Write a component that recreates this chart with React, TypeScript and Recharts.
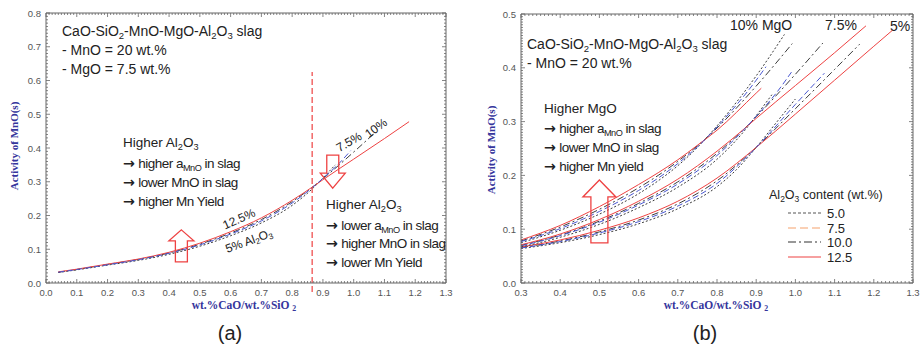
import React from 'react';
import { ComposedChart, Line, XAxis, YAxis, ReferenceLine, ReferenceDot } from 'recharts';

type Pt = [number, number];

// --- panel (a): MgO = 7.5 wt.%, one curve per Al2O3 content ---
const midAl5: Pt[] = [[0.04, 0.031], [0.1, 0.039], [0.2, 0.053], [0.3, 0.067], [0.4, 0.085], [0.5, 0.109], [0.6, 0.14], [0.7, 0.178], [0.8, 0.23], [0.87, 0.283], [0.9, 0.311], [0.94, 0.35]];
const midAl75: Pt[] = [[0.04, 0.032], [0.1, 0.04], [0.2, 0.054], [0.3, 0.069], [0.4, 0.088], [0.5, 0.113], [0.6, 0.145], [0.7, 0.184], [0.8, 0.237], [0.87, 0.286], [0.9, 0.31], [0.95, 0.352], [0.99, 0.392]];
const midAl10: Pt[] = [[0.04, 0.032], [0.1, 0.04], [0.2, 0.055], [0.3, 0.07], [0.4, 0.089], [0.5, 0.115], [0.6, 0.148], [0.7, 0.188], [0.8, 0.241], [0.87, 0.287], [0.9, 0.309], [1.0, 0.388], [1.07, 0.446]];
const midAl125: Pt[] = [[0.04, 0.033], [0.1, 0.041], [0.2, 0.056], [0.3, 0.071], [0.4, 0.091], [0.5, 0.118], [0.6, 0.152], [0.7, 0.193], [0.8, 0.245], [0.87, 0.287], [0.9, 0.306], [1.0, 0.367], [1.1, 0.428], [1.18, 0.478]];

// --- panel (b): MgO = 5 % (low) and 10 % (high); the 7.5 % family reuses panel (a) ---
const lowAl5: Pt[] = [[0.3, 0.064], [0.4, 0.075], [0.5, 0.09], [0.6, 0.11], [0.7, 0.138], [0.8, 0.179], [0.85, 0.211], [0.9, 0.252], [0.95, 0.297], [1.0, 0.342]];
const lowAl75: Pt[] = [[0.3, 0.065], [0.4, 0.077], [0.5, 0.093], [0.6, 0.114], [0.7, 0.143], [0.8, 0.185], [0.9, 0.252], [1.0, 0.332], [1.074, 0.39]];
const lowAl10: Pt[] = [[0.3, 0.066], [0.4, 0.078], [0.5, 0.095], [0.6, 0.117], [0.7, 0.147], [0.8, 0.19], [0.9, 0.252], [1.0, 0.324], [1.1, 0.397], [1.164, 0.444]];
const lowAl125: Pt[] = [[0.3, 0.067], [0.4, 0.08], [0.5, 0.098], [0.6, 0.121], [0.7, 0.152], [0.8, 0.195], [0.9, 0.252], [1.0, 0.314], [1.1, 0.377], [1.2, 0.44], [1.248, 0.47]];

const highAl5: Pt[] = [[0.3, 0.075], [0.4, 0.098], [0.5, 0.128], [0.6, 0.166], [0.65, 0.19], [0.7, 0.218], [0.75, 0.252], [0.8, 0.292], [0.9, 0.385], [0.972, 0.462]];
const highAl75: Pt[] = [[0.3, 0.077], [0.4, 0.101], [0.5, 0.133], [0.6, 0.172], [0.65, 0.195], [0.7, 0.222], [0.75, 0.253], [0.8, 0.29], [0.9, 0.377], [0.925, 0.402]];
const highAl10: Pt[] = [[0.3, 0.078], [0.4, 0.104], [0.5, 0.137], [0.6, 0.177], [0.65, 0.2], [0.7, 0.226], [0.75, 0.255], [0.8, 0.288], [0.9, 0.366], [0.992, 0.445]];
const highAl125: Pt[] = [[0.3, 0.08], [0.4, 0.107], [0.5, 0.142], [0.6, 0.183], [0.65, 0.205], [0.7, 0.229], [0.75, 0.256], [0.8, 0.284], [0.9, 0.353], [0.913, 0.362]];

// tick labels
const xTicksA = [0, 0.1, 0.2, 0.3, 0.4, 0.5, 0.6, 0.7, 0.8, 0.9, 1.0, 1.1, 1.2, 1.3];
const yTicksA = [0, 0.1, 0.2, 0.3, 0.4, 0.5, 0.6, 0.7, 0.8];
const xTicksB = [0.3, 0.4, 0.5, 0.6, 0.7, 0.8, 0.9, 1.0, 1.1, 1.2, 1.3];
const yTicksB = [0, 0.1, 0.2, 0.3, 0.4, 0.5];

// annotations (data coordinates)
const splitBasicity = 0.865;
const arrowsA = [
  { x: 0.44, y: 0.11, dir: 'up' as const },
  { x: 0.932, y: 0.33, dir: 'down' as const },
];
const arrowsB = [{ x: 0.5, y: 0.133, dir: 'up' as const }];

const legendItems = ['5.0', '7.5', '10.0', '12.5'];

// ---- styles ----
const SANS = '"Liberation Sans", Arial, sans-serif';
const NARROW = '"Liberation Sans Narrow", "Arial Narrow", "Liberation Sans", sans-serif';
const SERIF = '"Liberation Serif", "Times New Roman", serif';
const TITLE_BLUE = '#35359c';
const RED = '#ee4242';

const LINE_STYLE: Record<string, { stroke: string; dash?: string }> = {
  al5: { stroke: '#3c3c3c', dash: '2 2' },
  al75: { stroke: '#4a58d2', dash: '6 3' },
  al10: { stroke: '#3c3c3c', dash: '7 3 2 3' },
  al125: { stroke: RED },
};
const LEGEND_STYLE: Record<string, { stroke: string; dash?: string }> = {
  '5.0': { stroke: '#555', dash: '3 2' },
  '7.5': { stroke: '#f5a26c', dash: '8 4' },
  '10.0': { stroke: '#333', dash: '8 3 2 3' },
  '12.5': { stroke: RED },
};
const ARROW_SIZE = {
  aUp: { h: 32, hw: 25, sw: 12, hh: 11 },
  aDown: { h: 33, hw: 25, sw: 12, hh: 15 },
  bUp: { h: 63, hw: 33, sw: 17, hh: 17 },
};

const rows = (pts: Pt[], minX = -1) => pts.filter(([x]) => x >= minX).map(([x, y]) => ({ x, y }));
const steps = (lo: number, hi: number, st: number) => {
  const out: number[] = [];
  for (let i = 0; lo + i * st <= hi + 1e-9; i++) out.push(+(lo + i * st).toFixed(3));
  return out;
};
const isIn = (list: number[], v: number) => list.some((t) => Math.abs(t - v) < 1e-6);

const frameTick = (side: 'bottom' | 'top' | 'left' | 'right', majors: number[], label: boolean) => (p: any) => {
  const { x, y, payload } = p;
  const v = payload.value as number;
  const major = isIn(majors, v);
  const len = major ? 4 : 2;
  const s = { stroke: '#666', strokeWidth: 0.8 };
  let ln;
  if (side === 'bottom') ln = <line x1={x} x2={x} y1={y} y2={y - len} {...s} />;
  else if (side === 'top') ln = <line x1={x} x2={x} y1={y} y2={y + len} {...s} />;
  else if (side === 'left') ln = <line x1={x} x2={x + len} y1={y} y2={y} {...s} />;
  else ln = <line x1={x} x2={x - len} y1={y} y2={y} {...s} />;
  return (
    <g>
      {ln}
      {label && major && side === 'bottom' && (
        <text x={x} y={y + 13} textAnchor="middle" fontSize={9.5} fill="#555" fontFamily={SANS}>{v.toFixed(1)}</text>
      )}
      {label && major && side === 'left' && (
        <text x={x - 5} y={y + 3.5} textAnchor="end" fontSize={9.5} fill="#555" fontFamily={SANS}>{v.toFixed(1)}</text>
      )}
    </g>
  );
};

const arrowShape = (dir: 'up' | 'down', d: { h: number; hw: number; sw: number; hh: number }) => (p: any) => {
  const { cx, cy } = p;
  const k = dir === 'up' ? 1 : -1;
  const tip = cy - (k * d.h) / 2;
  const base = tip + k * d.hh;
  const end = cy + (k * d.h) / 2;
  const pts = [
    [cx, tip], [cx + d.hw / 2, base], [cx + d.sw / 2, base], [cx + d.sw / 2, end],
    [cx - d.sw / 2, end], [cx - d.sw / 2, base], [cx - d.hw / 2, base],
  ].map((q) => q.join(',')).join(' ');
  return <polygon points={pts} fill="none" stroke={RED} strokeWidth={1.3} />;
};

interface Series { key: string; data: Pt[]; style: string }

interface PanelProps {
  width: number;
  margin: { top: number; right: number; bottom: number; left: number };
  xDomain: [number, number];
  yDomain: [number, number];
  xTicks: number[];
  yTicks: number[];
  yMinorStep: number;
  minX: number;
  series: Series[];
  children?: React.ReactNode;
}

const Panel = ({ width, margin, xDomain, yDomain, xTicks, yTicks, yMinorStep, minX, series, children }: PanelProps) => {
  const xMinor = steps(xDomain[0], xDomain[1], 0.01);
  const yMinor = steps(yDomain[0], yDomain[1], yMinorStep);
  const common = { type: 'number' as const, allowDataOverflow: true, interval: 0 as const, tickSize: 0, tickMargin: 0, tickLine: false, axisLine: { stroke: '#666' } };
  return (
    <ComposedChart width={width} height={349} margin={margin}>
      <XAxis xAxisId="b" dataKey="x" domain={xDomain} ticks={xMinor} height={1} {...common} tick={frameTick('bottom', xTicks, true)} />
      <XAxis xAxisId="t" orientation="top" dataKey="x" domain={xDomain} ticks={xMinor} height={1} {...common} tick={frameTick('top', xTicks, false)} />
      <YAxis yAxisId="l" domain={yDomain} ticks={yMinor} width={1} {...common} tick={frameTick('left', yTicks, true)} />
      <YAxis yAxisId="r" orientation="right" domain={yDomain} ticks={yMinor} width={1} {...common} tick={frameTick('right', yTicks, false)} />
      {series.map((s) => (
        <Line key={s.key} xAxisId="b" yAxisId="l" data={rows(s.data, minX)} dataKey="y" type="monotone" dot={false}
          activeDot={false} isAnimationActive={false} stroke={LINE_STYLE[s.style].stroke}
          strokeDasharray={LINE_STYLE[s.style].dash} strokeWidth={1} />
      ))}
      {children}
    </ComposedChart>
  );
};

const S = ({ children }: { children: React.ReactNode }) => (
  <span style={{ fontSize: '0.68em', position: 'relative', top: '0.3em' }}>{children}</span>
);
const Arr = () => <span style={{ fontFamily: '"DejaVu Sans", sans-serif', fontSize: '1.05em', fontWeight: 700, letterSpacing: 0 }}>→</span>;

const Txt = ({ x, y, size = 14, family = SANS, rotate = 0, center = false, color = '#222', weight = 400, spacing = 0, children }: any) => (
  <div style={{
    position: 'absolute', left: x, top: y, fontSize: size, fontFamily: family, fontWeight: weight, color,
    lineHeight: 1, whiteSpace: 'nowrap', letterSpacing: spacing,
    transform: `translate(${center ? '-50%' : '0'}, -50%) rotate(${rotate}deg)`,
  }}>{children}</div>
);

const AlO = () => <>Al<S>2</S>O<S>3</S></>;
const AMnO = () => <>a<S>MnO</S></>;

const seriesA: Series[] = [
  { key: 'a5', data: midAl5, style: 'al5' },
  { key: 'a10', data: midAl10, style: 'al10' },
  { key: 'a125', data: midAl125, style: 'al125' },
  { key: 'a75', data: midAl75, style: 'al75' },
];
const seriesB: Series[] = [
  { key: 'l5', data: lowAl5, style: 'al5' }, { key: 'l10', data: lowAl10, style: 'al10' },
  { key: 'l125', data: lowAl125, style: 'al125' }, { key: 'l75', data: lowAl75, style: 'al75' },
  { key: 'm5', data: midAl5, style: 'al5' }, { key: 'm10', data: midAl10, style: 'al10' },
  { key: 'm125', data: midAl125, style: 'al125' }, { key: 'm75', data: midAl75, style: 'al75' },
  { key: 'h5', data: highAl5, style: 'al5' }, { key: 'h10', data: highAl10, style: 'al10' },
  { key: 'h125', data: highAl125, style: 'al125' }, { key: 'h75', data: highAl75, style: 'al75' },
];

const NOTE = 13.5;
const TIGHT = -0.5;

export default function App() {
  return (
    <div style={{ position: 'relative', width: 922, height: 349, background: '#fff', overflow: 'hidden' }}>
      <style>{'body{margin:0}'}</style>

      <div style={{ position: 'absolute', left: 0, top: 0 }}>
        <Panel width={460} margin={{ top: 12, right: 13, bottom: 65, left: 45 }} xDomain={[0, 1.3]} yDomain={[0, 0.8]}
          xTicks={xTicksA} yTicks={yTicksA} yMinorStep={0.01} minX={-1} series={seriesA}>
          <ReferenceLine xAxisId="b" yAxisId="l" ifOverflow="visible"
            segment={[{ x: splitBasicity, y: -0.027 }, { x: splitBasicity, y: 0.625 }]}
            stroke={RED} strokeDasharray="6 3" strokeWidth={1.2} />
          {arrowsA.map((a, i) => (
            <ReferenceDot key={i} xAxisId="b" yAxisId="l" x={a.x} y={a.y} r={1} ifOverflow="visible"
              shape={arrowShape(a.dir, a.dir === 'up' ? ARROW_SIZE.aUp : ARROW_SIZE.aDown)} />
          ))}
        </Panel>
      </div>

      <div style={{ position: 'absolute', left: 460, top: 0 }}>
        <Panel width={462} margin={{ top: 13, right: 8, bottom: 65, left: 60 }} xDomain={[0.3, 1.3]} yDomain={[0, 0.5]}
          xTicks={xTicksB} yTicks={yTicksB} yMinorStep={0.005} minX={0.3} series={seriesB}>
          {arrowsB.map((a, i) => (
            <ReferenceDot key={i} xAxisId="b" yAxisId="l" x={a.x} y={a.y} r={1} ifOverflow="visible"
              shape={arrowShape(a.dir, ARROW_SIZE.bUp)} />
          ))}
        </Panel>
      </div>

      {/* axis titles */}
      <Txt x={14} y={146} size={11} family={SERIF} weight={700} color={TITLE_BLUE} center rotate={-90}>Activity of MnO(s)</Txt>
      <Txt x={491} y={150} size={11} family={SERIF} weight={700} color={TITLE_BLUE} center rotate={-90}>Activity of MnO(s)</Txt>
      <Txt x={244} y={306} size={11.5} family={SERIF} weight={700} color={TITLE_BLUE} center>wt.%CaO/wt.%SiO <S>2</S></Txt>
      <Txt x={716} y={306} size={11.5} family={SERIF} weight={700} color={TITLE_BLUE} center>wt.%CaO/wt.%SiO <S>2</S></Txt>

      {/* panel labels */}
      <Txt x={230} y={333} size={20} center>(a)</Txt>
      <Txt x={705} y={333} size={20} center>(b)</Txt>

      {/* panel (a) notes */}
      <Txt x={62} y={31} size={14}>CaO-SiO<S>2</S>-MnO-MgO-<AlO /> slag</Txt>
      <Txt x={62} y={50} size={14}>- MnO = 20 wt.%</Txt>
      <Txt x={62} y={69} size={14}>- MgO = 7.5 wt.%</Txt>

      <Txt x={123} y={143} size={NOTE} family={NARROW}>Higher <AlO /></Txt>
      <Txt x={123} y={163} size={NOTE} family={NARROW} spacing={TIGHT}><Arr /> higher <AMnO /> in slag</Txt>
      <Txt x={123} y={182} size={NOTE} family={NARROW} spacing={TIGHT}><Arr /> lower MnO in slag</Txt>
      <Txt x={123} y={201} size={NOTE} family={NARROW} spacing={TIGHT}><Arr /> higher Mn Yield</Txt>

      <Txt x={326} y={205} size={NOTE} family={NARROW}>Higher <AlO /></Txt>
      <Txt x={326} y={225} size={NOTE} family={NARROW} spacing={TIGHT}><Arr /> lower <AMnO /> in slag</Txt>
      <Txt x={326} y={243} size={NOTE} family={NARROW} spacing={TIGHT}><Arr /> higher MnO in slag</Txt>
      <Txt x={326} y={262} size={NOTE} family={NARROW} spacing={TIGHT}><Arr /> lower Mn Yield</Txt>

      <Txt x={239} y={219} size={12} family={NARROW} center rotate={-24}>12.5%</Txt>
      <Txt x={249} y={241} size={12} family={NARROW} center rotate={-20}>5% <AlO /></Txt>
      <Txt x={349} y={142} size={12} family={NARROW} center rotate={-30}>7.5%</Txt>
      <Txt x={376} y={128} size={12} family={NARROW} center rotate={-36}>10%</Txt>

      {/* panel (b) notes */}
      <Txt x={527} y={44} size={14}>CaO-SiO<S>2</S>-MnO-MgO-<AlO /> slag</Txt>
      <Txt x={527} y={63} size={14}>- MnO = 20 wt.%</Txt>

      <Txt x={544} y={109} size={NOTE} family={NARROW}>Higher MgO</Txt>
      <Txt x={544} y={128} size={NOTE} family={NARROW} spacing={TIGHT}><Arr /> higher <AMnO /> in slag</Txt>
      <Txt x={544} y={147} size={NOTE} family={NARROW} spacing={TIGHT}><Arr /> lower MnO in slag</Txt>
      <Txt x={544} y={166} size={NOTE} family={NARROW} spacing={TIGHT}><Arr /> higher Mn yield</Txt>

      <Txt x={730} y={25} size={14}>10% MgO</Txt>
      <Txt x={825} y={25} size={14}>7.5%</Txt>
      <Txt x={890} y={26} size={14}>5%</Txt>

      {/* legend (b) */}
      <Txt x={769} y={195} size={12.5}><AlO /> content (wt.%)</Txt>
      {legendItems.map((k, i) => (
        <React.Fragment key={k}>
          <svg style={{ position: 'absolute', left: 788, top: 213 + i * 14.7 - 3 }} width={34} height={6}>
            <line x1={0} x2={33} y1={3} y2={3} stroke={LEGEND_STYLE[k].stroke} strokeDasharray={LEGEND_STYLE[k].dash} strokeWidth={1.2} />
          </svg>
          <Txt x={827} y={213 + i * 14.7} size={13}>{k}</Txt>
        </React.Fragment>
      ))}
    </div>
  );
}
